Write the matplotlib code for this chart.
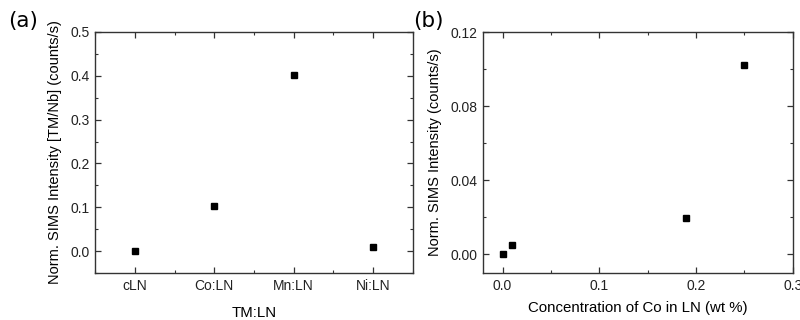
import matplotlib.pyplot as plt
from matplotlib.ticker import MultipleLocator

# panel (a): SIMS intensity per dopant
samples = ['cLN', 'Co:LN', 'Mn:LN', 'Ni:LN']
tm_intensity = [0.0, 0.102, 0.402, 0.009]

# panel (b): Co concentration series
co_conc = [0.0, 0.01, 0.19, 0.25]
co_intensity = [0.0, 0.005, 0.0197, 0.1023]

plt.rcParams['font.family'] = ['Liberation Sans', 'DejaVu Sans']

fig = plt.figure(figsize=(8, 3.2), dpi=100)
ax1 = fig.add_axes([0.119, 0.147, 0.397, 0.753])
ax2 = fig.add_axes([0.604, 0.147, 0.387, 0.753])


def style(ax):
    for s in ax.spines.values():
        s.set_linewidth(1.0)
        s.set_color('#333333')
    ax.tick_params(which='both', direction='in', top=True, right=True,
                   labelsize=10, colors='#333333', labelcolor='#222222')
    ax.tick_params(which='major', length=4, width=0.9)
    ax.tick_params(which='minor', length=2, width=0.8)
    ax.tick_params(axis='x', pad=4)
    ax.tick_params(axis='y', pad=4)


ax1.plot(range(len(samples)), tm_intensity, 's', color='black', ms=4.2)
ax1.set_xlim(-0.5, 3.5)
ax1.set_ylim(-0.05, 0.5)
ax1.set_xticks(range(len(samples)))
ax1.set_xticklabels(samples)
ax1.xaxis.set_minor_locator(MultipleLocator(0.5))
ax1.yaxis.set_major_locator(MultipleLocator(0.1))
ax1.yaxis.set_minor_locator(MultipleLocator(0.05))
ax1.yaxis.set_major_formatter(plt.FormatStrFormatter('%.1f'))
ax1.set_xlabel('TM:LN', fontsize=10.8, labelpad=10)
ax1.set_ylabel('Norm. SIMS Intensity [TM/Nb] (counts/s)', fontsize=10.5, labelpad=6)
style(ax1)
ax1.tick_params(axis='x', which='minor', labelbottom=False)

ax2.plot(co_conc, co_intensity, 's', color='black', ms=4.2)
ax2.set_xlim(-0.02, 0.3)
ax2.set_ylim(-0.01, 0.12)
ax2.xaxis.set_major_locator(MultipleLocator(0.1))
ax2.xaxis.set_minor_locator(MultipleLocator(0.05))
ax2.yaxis.set_major_locator(MultipleLocator(0.04))
ax2.yaxis.set_minor_locator(MultipleLocator(0.02))
ax2.xaxis.set_major_formatter(plt.FormatStrFormatter('%.1f'))
ax2.yaxis.set_major_formatter(plt.FormatStrFormatter('%.2f'))
ax2.set_xlabel('Concentration of Co in LN (wt %)', fontsize=10.8, labelpad=6)
ax2.set_ylabel('Norm. SIMS Intensity (counts/s)', fontsize=10.5, labelpad=6)
style(ax2)

fig.text(0.01, 0.965, '(a)', fontsize=15.5, family='DejaVu Sans', va='top')
fig.text(0.516, 0.965, '(b)', fontsize=15.5, family='DejaVu Sans', va='top')

fig.savefig('out.png')
